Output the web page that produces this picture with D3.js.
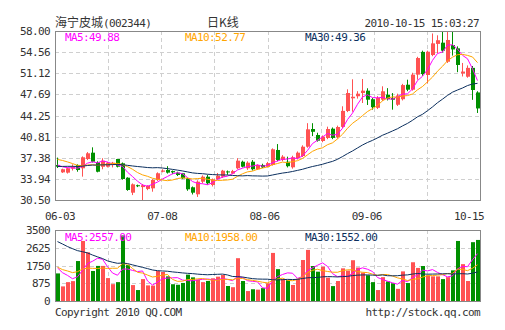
<!DOCTYPE html>
<html><head><meta charset="utf-8">
<script src="https://cdn.jsdelivr.net/npm/d3@7/dist/d3.min.js"></script>
<style>body{margin:0;background:#fff}svg{display:block}</style>
</head><body><svg id="c" width="505" height="330"></svg>
<script>
// ---------- data ----------
const stockName = "海宁皮城";
const stockCode = "(002344)";
const chartTitle = "日K线";
const timeStamp = "2010-10-15 15:03:27";
const xLabels = ["06-03", "07-08", "08-06", "09-06", "10-15"];
const priceTicks = [58.00, 54.56, 51.12, 47.69, 44.25, 40.81, 37.38, 33.94, 30.50];
const volumeTicks = [3500, 2625, 1750, 875, 0];
const maNames = ["MA5", "MA10", "MA30"];
const maPeriods = [5, 10, 30];
const priceMAValues = ["49.88", "52.77", "49.36"];
const volumeMAValues = ["2557.00", "1958.00", "1552.00"];

const opens = [36.2,35.0,34.95,35.6,36.2,35.66,37.17,38.2,36.63,35.9,35.92,36.35,37.17,36.47,34.13,31.69,32.9,32.6,32.3,32.4,
  33.75,35.1,35.38,35.2,34.95,34.85,34.03,32.57,31.43,33.48,34.29,32.94,33.92,34.29,35.15,34.8,35.66,36.73,35.66,36.73,
  35.5,36.2,35.9,36.2,38.64,37.01,36.73,35.82,37.28,37.66,39.17,42.05,41.08,40.1,40.59,42.1,40.75,42.4,44.98,47.05,
  47.38,47.91,48.29,46.9,45.5,46.82,47.64,47.1,46.0,46.9,49.26,48.45,50.9,54.6,50.84,54.09,55.9,56.1,53.0,55.7,
  55.18,51.1,50.56,52.0,48.0];
const highs = [37.4,35.6,35.8,36.3,36.3,37.6,38.3,39.07,36.8,37.3,36.7,36.7,37.2,36.6,34.2,33.2,33.0,33.1,32.9,33.9,
  35.0,35.5,36.0,35.3,35.1,34.9,34.1,32.7,33.7,34.5,34.6,34.0,34.9,35.4,35.3,35.4,37.3,36.9,36.8,37.0,
  36.3,36.4,36.7,38.9,39.6,37.8,37.55,37.7,38.4,39.4,43.0,43.0,41.45,41.0,42.43,42.3,42.6,45.75,48.51,50.14,
  48.2,50.19,48.68,47.1,47.4,49.0,48.7,47.9,47.8,49.4,50.08,51.2,53.8,54.8,54.8,57.6,57.3,58.0,58.0,58.0,
  55.5,52.8,52.4,52.3,48.2];
const lows = [35.7,34.9,34.8,35.3,35.1,34.3,37.0,36.6,35.0,35.5,35.8,35.8,35.8,33.8,32.0,31.3,32.6,30.5,32.1,31.85,
  33.6,35.0,34.8,34.7,34.4,33.9,32.0,31.4,31.0,33.2,33.0,32.7,33.8,34.1,34.6,34.7,35.5,35.8,35.4,35.3,
  35.4,35.7,35.8,36.1,36.8,36.8,35.8,35.6,37.1,37.5,39.0,40.9,40.0,39.9,40.4,40.4,40.5,42.2,44.8,44.87,
  47.0,46.28,45.96,45.2,45.3,46.6,46.7,45.2,45.8,46.7,48.2,48.3,50.08,50.7,49.49,53.9,54.4,54.5,52.8,54.0,
  51.3,50.6,50.4,46.8,44.66];
const closes = [35.92,35.5,35.66,35.9,35.38,37.45,38.1,36.73,35.1,36.9,36.57,36.57,35.92,33.92,32.13,33.05,32.8,32.9,32.8,33.75,
  34.85,35.3,34.95,35.0,34.57,34.03,32.24,31.69,33.48,34.29,33.22,33.87,34.45,35.27,35.1,35.2,36.9,35.92,36.57,35.5,
  36.2,35.8,36.5,38.75,37.01,37.55,36.0,37.45,38.2,39.17,42.0,41.6,40.15,40.8,42.05,40.6,42.38,45.0,47.91,47.3,
  47.8,48.29,46.82,45.6,47.1,48.19,46.93,46.82,47.5,49.2,48.45,50.9,53.6,51.0,54.63,55.99,56.5,54.8,56.54,55.0,
  52.47,51.4,52.0,48.4,45.4];
const volumes = [1360,720,930,980,1970,2960,2400,1480,1730,1730,1130,830,930,3230,1770,785,540,1080,770,760,
  1480,1430,1215,827,800,890,1300,1165,1050,930,990,1120,1200,1280,740,680,2110,985,490,580,
  560,635,870,2370,1570,1090,1030,790,1100,2020,2520,1725,1445,1690,1150,735,985,1610,1500,2010,
  1650,1400,1270,930,540,1175,965,870,600,1460,885,1910,1630,1725,1265,1215,1215,1080,1175,1510,
  2960,1817,985,2900,3010];
// sessions before the visible window (estimated from where the MA lines start)
const prevCloses = [34.8,35.2,35.9,36.3,35.6,35.0,34.6,35.1,35.8,36.2,35.7,35.3,34.9,35.5,36.0,35.6,35.2,35.4,35.1,
  34.0,37.2,38.0,38.6,38.3,37.9,37.0,36.4,36.0,35.7];
const prevVolumes = [4300,4700,4100,4900,4500,4200,4600,4400,4300,4500,
  2900,2500,2800,2600,2700,2400,2900,2600,2800,2500,
  1900,1600,1800,1500,1700,1900,1600,1800,1500];

// ---------- styles ----------
const MONO = "'DejaVu Sans Mono', 'Liberation Mono', monospace";
const CJK = "'Noto Sans CJK SC', sans-serif";
const TXT = "#333";
const UP = "#ff5252", DOWN = "#009000";
const maColors = ["#ff00ff", "#ffa500", "#0b2f5e"];
const GRID = "#cfcfcf", FRAME = "#888";

const L = 55, R = 480;
const P = {top: 31, bottom: 200};
const V = {top: 230, bottom: 301};

const svg = d3.select("#c");
svg.append("rect").attr("width", 505).attr("height", 330).attr("fill", "#fff");

const n = closes.length;
const x = d3.scaleBand().domain(d3.range(n)).range([56, 56 + n * 5 - 1]).paddingInner(0.2).paddingOuter(0);
const xc = i => x(i) + 1.5;
const yP = d3.scaleLinear().domain([30.5, 58]).range([P.bottom, P.top]);
const yV = d3.scaleLinear().domain([0, 3500]).range([V.bottom, V.top]);
const xGrid = d3.scaleLinear().domain([0, 8]).range([L, R]);
const xLab = d3.scalePoint().domain(xLabels).range([60, 469]);

function movingAvg(prev, cur, p) {
  const all = prev.concat(cur);
  const off = prev.length;
  return cur.map((_, i) => {
    const end = off + i;
    const start = Math.max(0, end - p + 1);
    return d3.mean(all.slice(start, end + 1));
  });
}

function text(g, s, xx, yy, opt = {}) {
  return g.append("text").attr("x", xx).attr("y", yy)
    .attr("font-family", opt.font || MONO).attr("font-size", opt.size || 11)
    .attr("letter-spacing", opt.ls === undefined ? "-0.6px" : opt.ls)
    .attr("text-anchor", opt.anchor || "start")
    .attr("fill", opt.fill || TXT).text(s);
}

// ---------- titles ----------
const t = svg.append("text").attr("x", L).attr("y", 26.5).attr("fill", TXT);
t.append("tspan").attr("font-family", CJK).attr("font-size", 12).text(stockName);
t.append("tspan").attr("font-family", MONO).attr("font-size", 11).attr("letter-spacing", "-0.6px").text(stockCode);
svg.append("text").attr("x", 207).attr("y", 26.5).attr("font-family", CJK).attr("font-size", 12)
  .attr("fill", TXT).text(chartTitle);
text(svg, timeStamp, 479, 26.5, {anchor: "end"});

// ---------- grids ----------
function panelGrid(top, bottom, yScale, ticks) {
  const g = svg.append("g");
  g.selectAll("line.v").data(d3.range(1, 8)).join("line")
    .attr("x1", d => Math.round(xGrid(d)) + 0.5).attr("x2", d => Math.round(xGrid(d)) + 0.5)
    .attr("y1", top).attr("y2", bottom)
    .attr("stroke", GRID).attr("stroke-dasharray", "4,3");
  g.selectAll("line.h").data(ticks.slice(1, -1)).join("line")
    .attr("x1", L).attr("x2", R)
    .attr("y1", d => Math.round(yScale(d)) + 0.5).attr("y2", d => Math.round(yScale(d)) + 0.5)
    .attr("stroke", GRID).attr("stroke-dasharray", "4,3");
}
panelGrid(P.top, P.bottom, yP, priceTicks);
panelGrid(V.top, V.bottom, yV, volumeTicks);

// axis labels
svg.append("g").selectAll("text").data(priceTicks).join("text")
  .attr("x", 50).attr("y", d => yP(d) + 4)
  .attr("font-family", MONO).attr("font-size", 11).attr("letter-spacing", "-0.6px")
  .attr("text-anchor", "end").attr("fill", TXT).text(d => d.toFixed(2));
svg.append("g").selectAll("text").data(volumeTicks).join("text")
  .attr("x", 50).attr("y", d => yV(d) + 4)
  .attr("font-family", MONO).attr("font-size", 11).attr("letter-spacing", "-0.6px")
  .attr("text-anchor", "end").attr("fill", TXT).text(d => d);
svg.append("g").selectAll("text").data(xLabels).join("text")
  .attr("x", d => xLab(d)).attr("y", 220)
  .attr("font-family", MONO).attr("font-size", 11).attr("letter-spacing", "-0.6px")
  .attr("text-anchor", "middle").attr("fill", TXT).text(d => d);

// clip paths
const defs = svg.append("defs");
defs.append("clipPath").attr("id", "cp").append("rect").attr("x", L).attr("y", P.top).attr("width", R - L).attr("height", P.bottom - P.top);
defs.append("clipPath").attr("id", "cv").append("rect").attr("x", L).attr("y", V.top).attr("width", R - L).attr("height", V.bottom - V.top);

// ---------- candles ----------
const idx = d3.range(n);
const up = i => closes[i] >= opens[i];
const cg = svg.append("g").attr("clip-path", "url(#cp)");
cg.selectAll("line").data(idx).join("line")
  .attr("x1", xc).attr("x2", xc)
  .attr("y1", i => yP(highs[i])).attr("y2", i => yP(lows[i]))
  .attr("stroke", i => up(i) ? UP : DOWN).attr("stroke-width", 1);
cg.selectAll("rect").data(idx).join("rect")
  .attr("x", i => x(i)).attr("width", x.bandwidth())
  .attr("y", i => yP(Math.max(opens[i], closes[i])))
  .attr("height", i => Math.max(1, yP(Math.min(opens[i], closes[i])) - yP(Math.max(opens[i], closes[i]))))
  .attr("fill", i => up(i) ? UP : DOWN);

// price MAs
const lineP = d3.line().x((d, i) => xc(i)).y(d => yP(d));
maPeriods.forEach((p, k) => {
  cg.append("path").datum(movingAvg(prevCloses, closes, p))
    .attr("d", lineP).attr("fill", "none").attr("stroke", maColors[k]).attr("stroke-width", 1);
});

// ---------- volume ----------
const vg = svg.append("g").attr("clip-path", "url(#cv)");
vg.selectAll("rect").data(idx).join("rect")
  .attr("x", i => x(i)).attr("width", x.bandwidth())
  .attr("y", i => yV(volumes[i])).attr("height", i => yV(0) - yV(volumes[i]))
  .attr("fill", i => up(i) ? UP : DOWN);
const lineV = d3.line().x((d, i) => xc(i)).y(d => yV(d));
maPeriods.forEach((p, k) => {
  vg.append("path").datum(movingAvg(prevVolumes, volumes, p))
    .attr("d", lineV).attr("fill", "none").attr("stroke", maColors[k]).attr("stroke-width", 1);
});

// frames
svg.append("rect").attr("x", L + 0.5).attr("y", P.top + 0.5).attr("width", R - L).attr("height", P.bottom - P.top)
  .attr("fill", "none").attr("stroke", FRAME);
svg.append("rect").attr("x", L + 0.5).attr("y", V.top + 0.5).attr("width", R - L).attr("height", V.bottom - V.top)
  .attr("fill", "none").attr("stroke", FRAME);

// legends
const legX = [65, 185, 305];
maNames.forEach((nm, k) => {
  text(svg, nm + ":" + priceMAValues[k], legX[k], 41, {fill: maColors[k]});
  text(svg, nm + ":" + volumeMAValues[k], legX[k], 241, {fill: maColors[k]});
});

// footer
text(svg, "Copyright 2010 QQ.COM", L, 316);
text(svg, "http://stock.qq.com", R, 316, {anchor: "end"});
</script>
</body></html>
